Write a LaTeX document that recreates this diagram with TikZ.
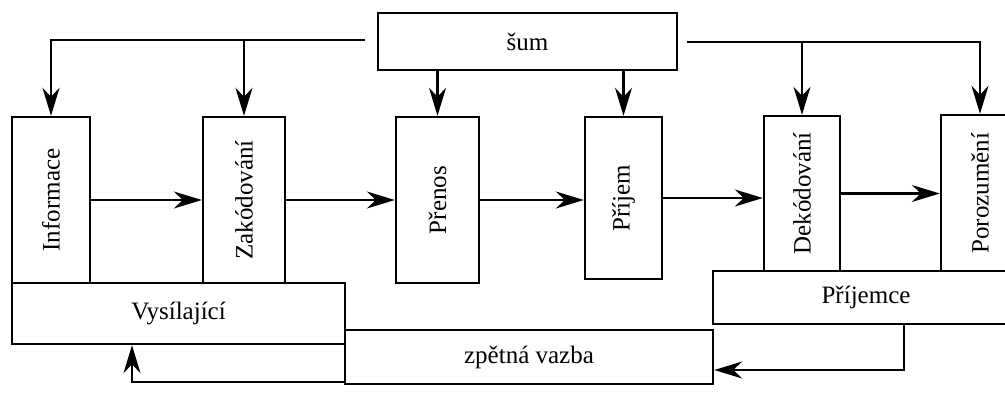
\documentclass[tikz,border=0pt]{standalone}
\usepackage{graphicx}
\usepackage{fontspec}
\setmainfont{Liberation Serif}
\usetikzlibrary{arrows.meta}
\tikzset{
  box/.style={draw, line width=1.2pt, inner sep=0pt, font=\fontsize{12.5}{14}\selectfont},
  spoj/.style={line width=1.2pt},
  sipka/.style={spoj, -{Stealth[length=14pt,width=8.5pt,inset=4.5pt]}},
}
\newcommand {\vblok}[6] {\node[box, minimum width=#4pt, minimum height=#5pt] (#1) at (#2,#3) {\rotatebox{90}{#6}};}

\begin{document}
\begin{tikzpicture}[x=0.5pt, y=-0.5pt]
	\useasboundingbox (0,0) rectangle (1005,392);
	\node[box, minimum width=149.5pt, minimum height=28.5pt] (sum) at (527.5,41.5) {šum};
	\vblok{inf}{51}{200}{39}{83}{Informace}
	\vblok{zak}{244}{200}{41}{83}{Zakódování}
	\vblok{pren}{437.5}{200}{41.5}{83}{Přenos}
	\vblok{prij}{623.5}{198}{38.5}{81}{Příjem}
	\vblok{dek}{802}{193.5}{38}{77.5}{Dekódování}
	\vblok{por}{980}{193}{39}{78}{Porozumění}
	\node[box, minimum width=166.5pt, minimum height=30.5pt] (vys) at (178.5,313.5) {Vysílající};
	\node[box, minimum width=153pt, minimum height=26.5pt] (prijemce) at (866,297.5) {Příjemce};
	\node[box, minimum width=184pt, minimum height=27pt] (zv) at (529,357) {zpětná vazba};
	% sum
	\coordinate (sl) at (365,40);
	\coordinate (sr) at (687,42);
	\draw[sipka] (sl) -| (inf.north);
	\draw[sipka] (sl -| zak.north) -- (zak.north);
	\draw[sipka] (sum.south -| pren.north) -- (pren.north);
	\draw[sipka] (sum.south -| prij.north) -- (prij.north);
	\draw[sipka] (sr) -| (por.north);
	\draw[sipka] (sr -| dek.north) -- (dek.north);
	% prenos
	\draw[sipka] (inf.east) -- (inf.east -| zak.west);
	\draw[sipka] (zak.east) -- (zak.east -| pren.west);
	\draw[sipka] (pren.east) -- (pren.east -| prij.west);
	\draw[sipka] (prij.east) -- (prij.east -| dek.west);
	\draw[sipka] (dek.east) -- (dek.east -| por.west);
	% zpetna vazba
	\coordinate (cr) at (904,370);
	\coordinate (cl) at (132,382);
	\draw[sipka] (prijemce.south -| cr) -- (cr) -- (cr -| zv.east);
	\draw[sipka] (cl -| zv.west) -- (cl) -- (cl |- vys.south);
\end{tikzpicture}
\end{document}
